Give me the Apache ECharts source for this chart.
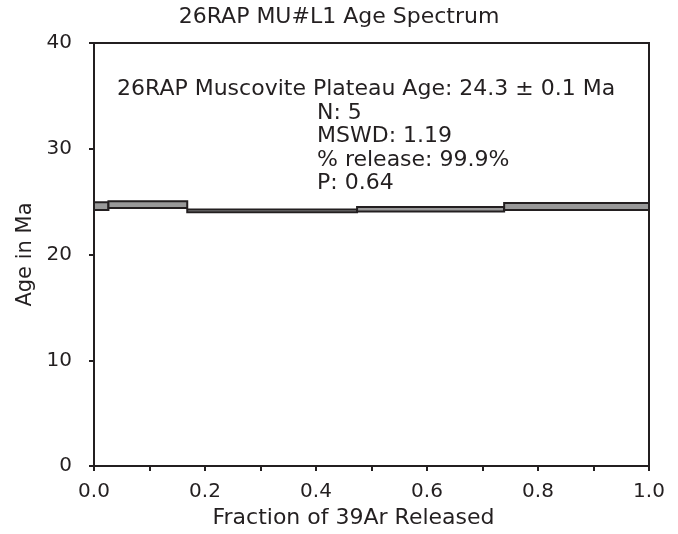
<!DOCTYPE html>
<html>
<head>
<meta charset="utf-8">
<script src="https://cdn.jsdelivr.net/npm/echarts@6/dist/echarts.min.js"></script>
<style>html,body{margin:0;padding:0;background:#fff}#c{width:678px;height:534px}</style>
</head>
<body>
<div id="c"></div>
<script>
// Step data: cumulative fraction of 39Ar released (start/end), age (Ma), half-height error (Ma)
var stepStart = [0.000, 0.026, 0.168, 0.474, 0.739];
var stepEnd   = [0.026, 0.168, 0.474, 0.739, 1.000];
var stepAge   = [24.58, 24.72, 24.13, 24.28, 24.55];
var stepErr   = [0.37, 0.32, 0.13, 0.21, 0.33];

var titleText = '26RAP MU#L1 Age Spectrum';
var plateauLine = '26RAP Muscovite Plateau Age: 24.3 \u00b1 0.1 Ma';
var statsLines = ['N: 5', 'MSWD: 1.19', '% release: 99.9%', 'P: 0.64'];
var xName = 'Fraction of 39Ar Released';
var yName = 'Age in Ma';

var ink = '#231f20';
var font = 'DejaVu Sans';

var data = stepStart.map(function (s, i) {
  return [s, stepEnd[i], stepAge[i], stepErr[i]];
});

var chart = echarts.init(document.getElementById('c'), null, {renderer: 'canvas'});
chart.setOption({
  animation: false,
  backgroundColor: '#fff',
  title: {
    text: titleText,
    left: 'center',
    top: 6,
    padding: 0,
    textStyle: {fontFamily: font, fontSize: 22, fontWeight: 'normal', color: ink}
  },
  grid: {left: 94, right: 29, top: 43, bottom: 63, show: true, borderColor: ink, borderWidth: 2},
  xAxis: {
    type: 'value', min: 0, max: 1, interval: 0.1,
    name: xName, nameLocation: 'middle', nameGap: 37,
    nameTextStyle: {fontFamily: font, fontSize: 22, color: ink, padding: [0, 36, 0, 0]},
    axisLine: {show: true, lineStyle: {color: ink, width: 2}},
    axisTick: {show: true, length: 5, lineStyle: {color: ink, width: 2}},
    axisLabel: {
      margin: 16, fontFamily: font, fontSize: 20, color: ink,
      formatter: function (v) { return Math.round(v * 10) % 2 === 0 ? v.toFixed(1) : ''; }
    },
    splitLine: {show: false}
  },
  yAxis: {
    type: 'value', min: 0, max: 40, interval: 10,
    name: yName, nameLocation: 'middle', nameGap: 58, nameRotate: 90,
    nameTextStyle: {fontFamily: font, fontSize: 21, color: ink},
    axisLine: {show: true, lineStyle: {color: ink, width: 2}},
    axisTick: {show: true, length: 5, lineStyle: {color: ink, width: 2}},
    axisLabel: {margin: 22, fontFamily: font, fontSize: 20, color: ink},
    splitLine: {show: false}
  },
  series: [{
    type: 'custom',
    data: data,
    encode: {x: [0, 1], y: 2},
    clip: false,
    renderItem: function (params, api) {
      var x0 = api.value(0), x1 = api.value(1), a = api.value(2), e = api.value(3);
      var p0 = api.coord([x0, a + e]);
      var p1 = api.coord([x1, a - e]);
      return {
        type: 'rect',
        shape: {x: p0[0], y: p0[1], width: p1[0] - p0[0], height: p1[1] - p0[1]},
        style: {fill: '#999999', stroke: ink, lineWidth: 2}
      };
    }
  }],
  graphic: [
    {
      type: 'text', x: 117, y: 89,
      style: {text: plateauLine, fontFamily: font, fontSize: 22, fill: ink, verticalAlign: 'middle', align: 'left'}
    },
    {
      type: 'text', x: 317, y: 101.7,
      style: {text: statsLines.join('\n'), fontFamily: font, fontSize: 22, lineHeight: 23.3, fill: ink, verticalAlign: 'top', align: 'left'}
    }
  ]
});
</script>
</body>
</html>
